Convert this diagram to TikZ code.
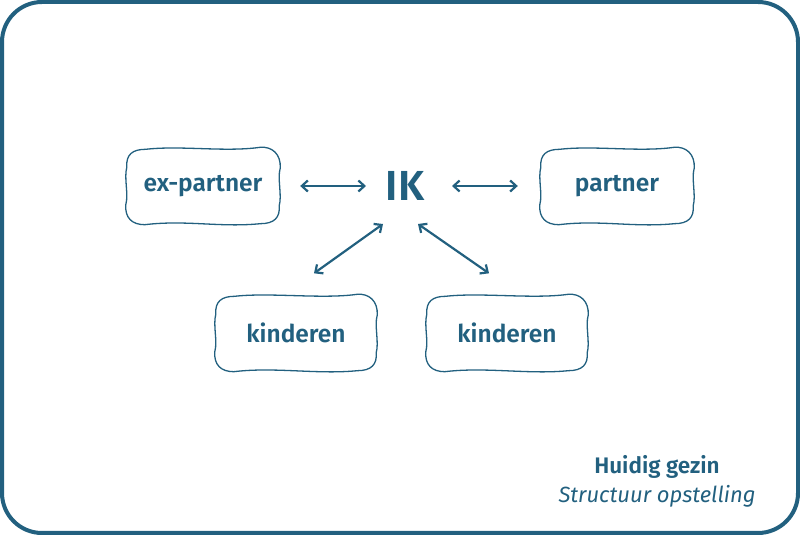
\documentclass[tikz,border=0pt]{standalone}
\usepackage{fontspec}
\setmainfont{Fira Sans}[BoldFont={Fira Sans SemiBold}]
\usepackage{xcolor}
\usetikzlibrary{arrows.meta}
\definecolor{vblue}{HTML}{22607F}
\definecolor{vwhite}{HTML}{FFFFFF}

\tikzset{
	box/.style = {minimum width = 154pt, minimum height = 75pt, inner sep = 0pt, text = vblue, font = \fontsize{24.5}{28}\selectfont\bfseries},
	sketch/.style = {draw = vblue, line width = 1.3pt},
	link/.style = {draw = vblue, line width = 2.2pt, {Straight Barb[length=6pt,width=11pt]}-{Straight Barb[length=6pt,width=11pt]}}
}

% hand drawn outline round a node
\newcommand{\sketchbox}[1]{
	\draw[sketch] ([xshift=20pt,yshift=-1pt]#1.north west)
		.. controls ([xshift=55pt,yshift=3pt]#1.north west) and ([xshift=-55pt,yshift=-4pt]#1.north east) .. ([xshift=-20pt,yshift=1pt]#1.north east)
		.. controls ([xshift=-8pt,yshift=2pt]#1.north east) and ([xshift=1pt,yshift=-6pt]#1.north east) .. ([xshift=0pt,yshift=-20pt]#1.north east)
		.. controls ([xshift=-3pt,yshift=-30pt]#1.north east) and ([xshift=2pt,yshift=28pt]#1.south east) .. ([xshift=-1pt,yshift=18pt]#1.south east)
		.. controls ([xshift=0pt,yshift=6pt]#1.south east) and ([xshift=-6pt,yshift=0pt]#1.south east) .. ([xshift=-20pt,yshift=0pt]#1.south east)
		.. controls ([xshift=-60pt,yshift=-4pt]#1.south east) and ([xshift=60pt,yshift=4pt]#1.south west) .. ([xshift=19pt,yshift=-1pt]#1.south west)
		.. controls ([xshift=6pt,yshift=-1pt]#1.south west) and ([xshift=-1pt,yshift=6pt]#1.south west) .. ([xshift=0pt,yshift=19pt]#1.south west)
		.. controls ([xshift=3pt,yshift=30pt]#1.south west) and ([xshift=-2pt,yshift=-30pt]#1.north west) .. ([xshift=1pt,yshift=-19pt]#1.north west)
		.. controls ([xshift=0pt,yshift=-6pt]#1.north west) and ([xshift=7pt,yshift=-1pt]#1.north west) .. cycle;
}

\begin{document}
\begin{tikzpicture}[x = 1pt, y = 1pt]
	\useasboundingbox (0,0) rectangle (800,535);
	\draw[draw = vblue, line width = 4pt, rounded corners = 40pt] (2,2) rectangle (798,533);

	\node[text = vblue, font = \fontsize{42}{46}\selectfont\bfseries] (ik) at (405,349) {IK};
	\node[box] (exp) at (203,349) {ex-partner};
	\node[box] (par) at (617,349) {partner};
	\node[box, minimum width = 162pt] (kid1) at (296,202) {kinderen};
	\node[box, minimum width = 162pt] (kid2) at (507,202) {kinderen};

	\sketchbox{exp}
	\sketchbox{par}
	\sketchbox{kid1}
	\sketchbox{kid2}

	\draw[link] ([xshift=20pt]exp.east) -- ([xshift=-39pt]ik.center);
	\draw[link] ([xshift=47pt]ik.center) -- ([xshift=-22pt]par.west);
	\draw[link] ([shift={(-22pt,-38pt)}]ik.center) -- ([shift={(18pt,22pt)}]kid1.north);
	\draw[link] ([shift={(13pt,-38pt)}]ik.center) -- ([shift={(-18pt,22pt)}]kid2.north);

	\node[text = vblue, font = \fontsize{22.5}{26}\selectfont\bfseries] (title) at (657,68) {Huidig gezin};
	\node[text = vblue, font = \fontsize{22}{26}\selectfont\itshape, below = 0pt] (sub) at (title.south) {Structuur opstelling};
\end{tikzpicture}
\end{document}
